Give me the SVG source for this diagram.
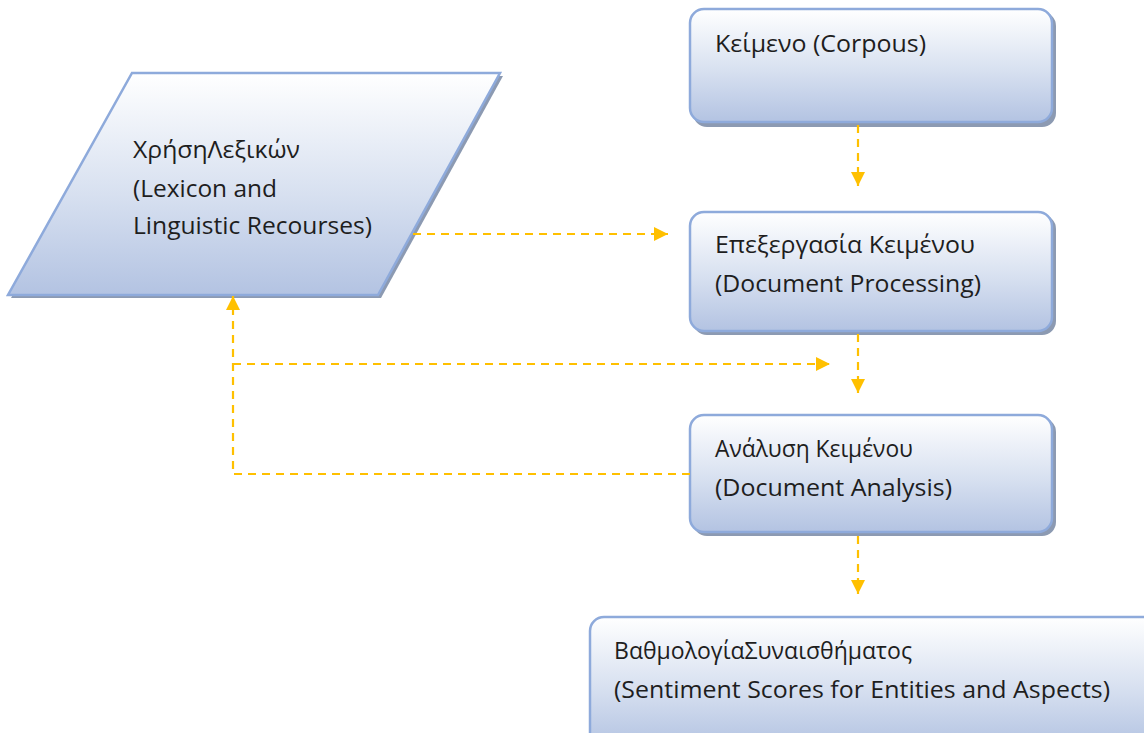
<svg xmlns="http://www.w3.org/2000/svg" width="1144" height="733" viewBox="0 0 1144 733">
<defs>
<linearGradient id="g" x1="0" y1="0" x2="0" y2="1">
<stop offset="0" stop-color="#ffffff"/>
<stop offset="0.55" stop-color="#d7e0f0"/>
<stop offset="1" stop-color="#b3c3e2"/>
</linearGradient>
<marker id="ah" markerWidth="14" markerHeight="14" viewBox="0 0 14 14" refX="14" refY="7" orient="auto" markerUnits="userSpaceOnUse">
<path d="M0,0 L14,7 L0,14 Z" fill="#FFC000"/>
</marker>
<style>
.box{fill:url(#g);stroke:#8eaadb;stroke-width:2.5}
.sh{fill:#8c9ab2}
.t{font-family:"Open Sans","Noto Sans","DejaVu Sans",sans-serif;font-size:24px;fill:#1e1e1e}
.c{fill:none;stroke:#FFC000;stroke-width:2.2;stroke-dasharray:8 6}
</style>
</defs>
<rect width="1144" height="733" fill="#ffffff"/>
<g id="lexicon">
<polygon class="sh" points="135,76 503,76 381,298 11,298"/>
<polygon class="box" points="132,73 500,73 378,295 8,295"/>
<text class="t" x="133" y="158" textLength="167" lengthAdjust="spacingAndGlyphs">ΧρήσηΛεξικών</text>
<text class="t" x="133" y="197" textLength="144" lengthAdjust="spacingAndGlyphs">(Lexicon and</text>
<text class="t" x="133" y="234" textLength="239" lengthAdjust="spacingAndGlyphs">Linguistic Recourses)</text>
</g>
<g id="corpus">
<rect class="sh" x="693" y="12" width="363" height="115" rx="14"/>
<rect class="box" x="690" y="9" width="362" height="113" rx="14"/>
<text class="t" x="715" y="52" textLength="211" lengthAdjust="spacingAndGlyphs">Κείμενο (Corpous)</text>
</g>
<g id="processing">
<rect class="sh" x="693" y="215" width="363" height="120" rx="14"/>
<rect class="box" x="690" y="212" width="362" height="119" rx="14"/>
<text class="t" x="715" y="253" textLength="260" lengthAdjust="spacingAndGlyphs">Επεξεργασία Κειμένου</text>
<text class="t" x="715" y="292" textLength="266" lengthAdjust="spacingAndGlyphs">(Document Processing)</text>
</g>
<g id="analysis">
<rect class="sh" x="693" y="418" width="363" height="118" rx="14"/>
<rect class="box" x="690" y="415" width="362" height="117" rx="14"/>
<text class="t" x="715" y="457" textLength="198" lengthAdjust="spacingAndGlyphs">Ανάλυση Κειμένου</text>
<text class="t" x="715" y="496" textLength="237" lengthAdjust="spacingAndGlyphs">(Document Analysis)</text>
</g>
<g id="scores">
<rect class="sh" x="593" y="620" width="570" height="130" rx="14"/>
<rect class="box" x="590" y="617" width="570" height="130" rx="14"/>
<text class="t" x="614" y="659" textLength="298" lengthAdjust="spacingAndGlyphs">ΒαθμολογίαΣυναισθήματος</text>
<text class="t" x="614" y="698" textLength="496" lengthAdjust="spacingAndGlyphs">(Sentiment Scores for Entities and Aspects)</text>
</g>
<g id="connectors">
<path class="c" d="M858,125 L858,186" marker-end="url(#ah)"/>
<path class="c" d="M413,234 L668,234" marker-end="url(#ah)"/>
<path class="c" d="M858,334 L858,393" marker-end="url(#ah)"/>
<path class="c" d="M690,474 L233,474 L233,296" marker-end="url(#ah)"/>
<path class="c" d="M233,364 L830,364" marker-end="url(#ah)"/>
<path class="c" d="M858,536 L858,594" marker-end="url(#ah)"/>
</g>
</svg>
